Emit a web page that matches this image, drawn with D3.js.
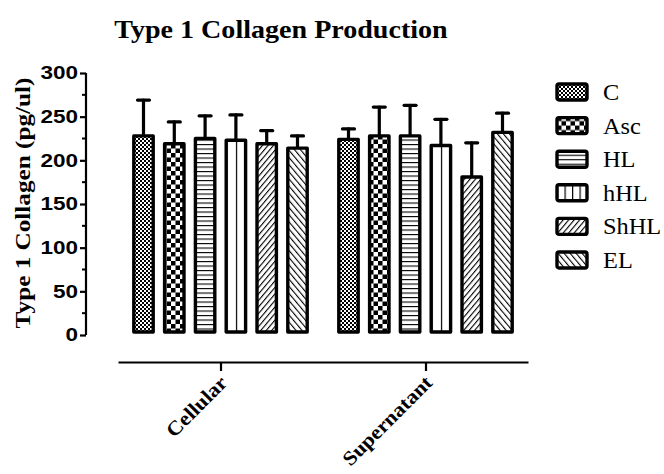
<!DOCTYPE html>
<html>
<head>
<meta charset="utf-8">
<script src="https://cdn.jsdelivr.net/npm/d3@7"></script>
<style>
  html, body { margin: 0; padding: 0; background: #fff; }
  svg { display: block; }
</style>
</head>
<body>
<svg id="chart" width="664" height="474"></svg>
<script>
// Groups, series and measured values (pg/ul) with upward SD error bars
const groups = ["Cellular", "Supernatant"];
const series = ["C", "Asc", "HL", "hHL", "ShHL", "EL"];
const cellularMean = [228, 219, 225, 223, 219, 214];
const cellularErr = [41, 25, 26, 29, 15, 14];
const supernatantMean = [224, 228, 228, 217, 181, 232];
const supernatantErr = [12, 33, 35, 30, 39, 22];
const yTicks = [0, 50, 100, 150, 200, 250, 300];

const rows = [];
groups.forEach((g, gi) => {
  const means = gi === 0 ? cellularMean : supernatantMean;
  const errs = gi === 0 ? cellularErr : supernatantErr;
  series.forEach((s, si) => rows.push({ group: g, series: s, si, value: means[si], err: errs[si] }));
});

const svg = d3.select("#chart");
const defs = svg.append("defs");
const SERIF = "'Liberation Serif', 'Times New Roman', serif";
const SANS = "'Liberation Sans', Arial, sans-serif";

// Fill patterns, one per series
function checker(id, size) {
  const p = defs.append("pattern").attr("id", id)
    .attr("patternUnits", "userSpaceOnUse").attr("width", size * 2).attr("height", size * 2);
  p.append("rect").attr("width", size * 2).attr("height", size * 2).attr("fill", "#fff");
  p.append("rect").attr("width", size).attr("height", size).attr("fill", "#000");
  p.append("rect").attr("x", size).attr("y", size).attr("width", size).attr("height", size).attr("fill", "#000");
}
checker("pat-C", 2);
checker("pat-Asc", 4.5);

(function () {
  const p = defs.append("pattern").attr("id", "pat-HL")
    .attr("patternUnits", "userSpaceOnUse").attr("width", 10).attr("height", 4.5);
  p.append("rect").attr("width", 10).attr("height", 4.5).attr("fill", "#fff");
  p.append("line").attr("x1", 0).attr("x2", 10).attr("y1", 0.5).attr("y2", 0.5)
    .attr("stroke", "#000").attr("stroke-width", 1.2);
})();

function vlines(id, frac) {
  const p = defs.append("pattern").attr("id", id)
    .attr("patternUnits", "objectBoundingBox").attr("width", frac).attr("height", 1);
  p.append("rect").attr("width", 200).attr("height", 400).attr("fill", "#fff");
  p.append("line").attr("x1", 0.6).attr("x2", 0.6).attr("y1", 0).attr("y2", 400)
    .attr("stroke", "#000").attr("stroke-width", 1.2);
}
vlines("pat-hHL", 0.5);
vlines("pat-hHL-legend", 0.25);

function diag(id, angle, gap, w) {
  const p = defs.append("pattern").attr("id", id)
    .attr("patternUnits", "userSpaceOnUse").attr("width", gap).attr("height", gap)
    .attr("patternTransform", `rotate(${angle})`);
  p.append("rect").attr("width", gap).attr("height", gap).attr("fill", "#fff");
  p.append("line").attr("x1", 0).attr("x2", 0).attr("y1", 0).attr("y2", gap)
    .attr("stroke", "#000").attr("stroke-width", w);
}
diag("pat-ShHL", 40, 4.2, 2.2);
diag("pat-EL", -40, 4.6, 2.2);

const fillFor = (s, legend) => (s === "hHL" && legend) ? "url(#pat-hHL-legend)" : `url(#pat-${s})`;

// Scales
const y = d3.scaleLinear().domain([0, 300]).range([335, 73]);
const x0 = d3.scalePoint().domain(groups).range([118, 528]).padding(0.5);
const x1 = d3.scaleBand().domain(series).range([-92.4, 92.4]).paddingInner(0.37).paddingOuter(0.185);

// Title (text set slightly wide)
svg.append("text").attr("transform", "translate(281,38) scale(1.08,1)").attr("text-anchor", "middle")
  .style("font-family", SERIF).style("font-weight", "bold")
  .style("font-size", "26px").text("Type 1 Collagen Production");

// Y axis
const yAxis = svg.append("g").attr("transform", "translate(86,0)")
  .call(d3.axisLeft(y).tickValues(yTicks).tickSize(6).tickPadding(3));
yAxis.select(".domain").attr("stroke-width", 2.2).attr("d", `M0,${y(300)}V${y(0)}`);
yAxis.selectAll(".tick line").attr("stroke-width", 2.2);
yAxis.selectAll(".tick text").style("font-family", SANS)
  .style("font-weight", "bold").style("font-size", "18px").attr("fill", "#000")
  .attr("x", -6.4).attr("transform", "scale(1.25,1)");
// minor ticks
yAxis.selectAll(".minor").data(d3.range(25, 300, 50)).join("line")
  .attr("x1", -4).attr("x2", 0).attr("y1", d => y(d)).attr("y2", d => y(d))
  .attr("stroke", "#000").attr("stroke-width", 2);

svg.append("text").attr("transform", `translate(30,${(y(0) + y(300)) / 2 - 1}) rotate(-90) scale(1.2,1)`)
  .attr("text-anchor", "middle")
  .style("font-family", SERIF).style("font-weight", "bold")
  .style("font-size", "21px").text("Type 1 Collagen (pg/ul)");

// X axis (offset below bars)
const xAxis = svg.append("g").attr("transform", "translate(0,362)")
  .call(d3.axisBottom(x0).tickSize(9).tickSizeOuter(0).tickFormat(""));
xAxis.select(".domain").attr("stroke-width", 2.2);
xAxis.selectAll(".tick line").attr("stroke-width", 2.2);

svg.append("g").selectAll("text").data(groups).join("text")
  .attr("transform", d => `translate(${x0(d) + 8},${384}) rotate(-45) scale(1.1,1)`)
  .attr("text-anchor", "end")
  .style("font-family", SERIF).style("font-weight", "bold")
  .style("font-size", "20px").text(d => d);

// Error bars (up only)
const eb = svg.append("g").attr("stroke", "#000").attr("stroke-width", 3.2).attr("stroke-linecap", "round");
eb.selectAll("line.v").data(rows).join("line").attr("class", "v")
  .attr("x1", d => x0(d.group) + x1(d.series) + x1.bandwidth() / 2)
  .attr("x2", d => x0(d.group) + x1(d.series) + x1.bandwidth() / 2)
  .attr("y1", d => y(d.value)).attr("y2", d => y(d.value + d.err));
eb.selectAll("line.cap").data(rows).join("line").attr("class", "cap")
  .attr("x1", d => x0(d.group) + x1(d.series) + x1.bandwidth() / 2 - 6)
  .attr("x2", d => x0(d.group) + x1(d.series) + x1.bandwidth() / 2 + 6)
  .attr("y1", d => y(d.value + d.err)).attr("y2", d => y(d.value + d.err));

// Bars
svg.append("g").selectAll("rect").data(rows).join("rect")
  .attr("x", d => x0(d.group) + x1(d.series))
  .attr("y", d => y(d.value))
  .attr("width", x1.bandwidth())
  .attr("height", d => y(0) - 3 - y(d.value))
  .attr("fill", d => fillFor(d.series, false))
  .attr("stroke", "#000").attr("stroke-width", 3.4).attr("stroke-linejoin", "round");

// Legend
const legend = svg.append("g").attr("transform", "translate(557,92)");
const lg = legend.selectAll("g").data(series).join("g")
  .attr("transform", (d, i) => `translate(0,${i * 33.6})`);
lg.append("rect").attr("x", 0).attr("y", -8).attr("width", 30).attr("height", 16)
  .attr("rx", 2).attr("fill", d => fillFor(d, true))
  .attr("stroke", "#000").attr("stroke-width", 3.4).attr("stroke-linejoin", "round");
lg.append("text").attr("transform", "translate(46,8) scale(1.06,1)")
  .style("font-family", SERIF)
  .style("font-size", "23px").text(d => d);
</script>
</body>
</html>
